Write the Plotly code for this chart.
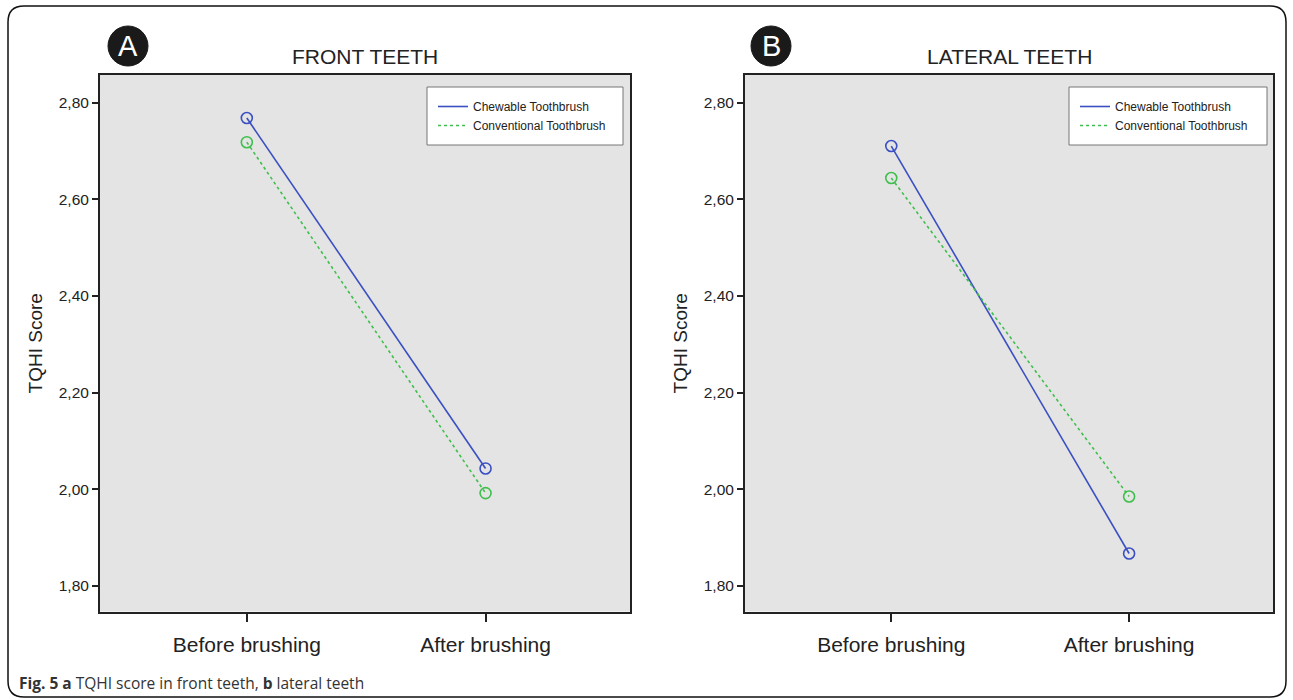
import plotly.graph_objects as go

categories = ["Before brushing", "After brushing"]
front_chewable = [2.768, 2.043]
front_conventional = [2.718, 1.992]
lateral_chewable = [2.710, 1.867]
lateral_conventional = [2.644, 1.985]
series_names = ["Chewable Toothbrush", "Conventional Toothbrush"]
panel_titles = ["FRONT TEETH", "LATERAL TEETH"]
panel_letters = ["A", "B"]
y_ticks = [1.80, 2.00, 2.20, 2.40, 2.60, 2.80]
y_tick_labels = ["1,80", "2,00", "2,20", "2,40", "2,60", "2,80"]
caption = "<b>Fig. 5</b> <b>a</b> TQHI score in front teeth, <b>b</b> lateral teeth"

W, H = 1293, 700
BLUE = "#3a50c2"
GREEN = "#3fbf4c"
FONT = "Liberation Sans, Arial, sans-serif"

def px(x):
    return x / W

def py(y):
    return 1 - y / H

panels = [
    dict(xd=[px(100), px(630)], data=[front_chewable, front_conventional], xa="x", ya="y", legend="legend"),
    dict(xd=[px(745), px(1273)], data=[lateral_chewable, lateral_conventional], xa="x2", ya="y2", legend="legend2"),
]

fig = go.Figure()
for p in panels:
    for name, vals, col, dash in zip(series_names, p["data"], [BLUE, GREEN], ["solid", "dot"]):
        fig.add_trace(go.Scatter(
            x=categories, y=vals, mode="lines", name=name,
            line=dict(color=col, width=1.6, dash=dash),
            xaxis=p["xa"], yaxis=p["ya"], legend=p["legend"], showlegend=True,
        ))
        fig.add_trace(go.Scatter(
            x=categories, y=vals, mode="markers", name=name,
            marker=dict(symbol="circle-open", size=11, color=col, line=dict(width=1.6, color=col)),
            xaxis=p["xa"], yaxis=p["ya"], showlegend=False, hoverinfo="skip",
        ))

ydom = [py(611.5), py(75)]
xaxis_common = dict(
    type="category", range=[-0.615, 1.605], showgrid=False, zeroline=False,
    showline=True, linecolor="#222222", linewidth=2, mirror=True,
    ticks="outside", ticklen=8, tickwidth=1.5, tickcolor="#222222",
    tickfont=dict(family=FONT, size=21, color="#222222"), ticklabelstandoff=5,
)
yaxis_common = dict(
    range=[1.747, 2.857], showgrid=False, zeroline=False,
    showline=True, linecolor="#222222", linewidth=2, mirror=True,
    ticks="outside", ticklen=6, tickwidth=1.5, tickcolor="#222222",
    tickvals=y_ticks, ticktext=y_tick_labels,
    tickfont=dict(family=FONT, size=15.5, color="#222222"),
    title=dict(text="TQHI Score", font=dict(family=FONT, size=19, color="#222222"), standoff=11),
)
fig.update_layout(
    xaxis=dict(domain=panels[0]["xd"], anchor="y", **xaxis_common),
    yaxis=dict(domain=ydom, anchor="x", **yaxis_common),
    xaxis2=dict(domain=panels[1]["xd"], anchor="y2", **xaxis_common),
    yaxis2=dict(domain=ydom, anchor="x2", **yaxis_common),
)

legend_common = dict(
    bgcolor="rgba(0,0,0,0)", borderwidth=0, xanchor="left", yanchor="top",
    font=dict(family=FONT, size=12, color="#222222"), tracegroupgap=0, itemwidth=30,
)
fig.update_layout(
    legend=dict(x=px(433), y=py(92), **legend_common),
    legend2=dict(x=px(1075), y=py(92), **legend_common),
)

shapes = []
for lx0, lx1 in [(427, 623), (1069, 1267)]:
    shapes.append(dict(type="rect", xref="paper", yref="paper",
                       x0=px(lx0), x1=px(lx1), y0=py(145), y1=py(87),
                       fillcolor="white", line=dict(color="#777777", width=1), layer="above"))
for cx in [128, 771]:
    r = 20
    shapes.append(dict(type="circle", xref="paper", yref="paper",
                       x0=px(cx - r), x1=px(cx + r), y0=py(46 + r), y1=py(46 - r),
                       fillcolor="#1a1a1a", line=dict(color="#1a1a1a", width=1)))
x0, x1, y0, y1, rr = 8, 1286, 6, 697, 16
path = (f"M {px(x0)},{py(y0+rr)} Q {px(x0)},{py(y0)} {px(x0+rr)},{py(y0)} "
        f"L {px(x1-rr)},{py(y0)} Q {px(x1)},{py(y0)} {px(x1)},{py(y0+rr)} "
        f"L {px(x1)},{py(y1-rr)} Q {px(x1)},{py(y1)} {px(x1-rr)},{py(y1)} "
        f"L {px(x0+rr)},{py(y1)} Q {px(x0)},{py(y1)} {px(x0)},{py(y1-rr)} Z")
shapes.append(dict(type="path", xref="paper", yref="paper", path=path,
                   line=dict(color="#111111", width=1.5)))

annotations = []
for title, letter, cx, tx in zip(panel_titles, panel_letters, [128, 771], [365, 1009]):
    annotations.append(dict(text=title, xref="paper", yref="paper", x=px(tx), y=py(57),
                            xanchor="center", yanchor="middle", showarrow=False,
                            font=dict(family=FONT, size=21, color="#222222")))
    annotations.append(dict(text=letter, xref="paper", yref="paper", x=px(cx), y=py(46),
                            xanchor="center", yanchor="middle", showarrow=False,
                            font=dict(family=FONT, size=29, color="white")))
annotations.append(dict(text=caption, xref="paper", yref="paper", x=px(17), y=py(683),
                        xanchor="left", yanchor="middle", showarrow=False,
                        font=dict(family="Open Sans, sans-serif", size=15.5, color="#333333")))

fig.update_layout(
    width=W, height=H, margin=dict(l=0, r=0, t=0, b=0),
    paper_bgcolor="white", plot_bgcolor="#e4e4e4",
    shapes=shapes, annotations=annotations, hovermode=False,
)
fig.write_html("out.html", config={"displayModeBar": False},
               post_script="document.body.style.margin='0';document.body.style.overflow='hidden';")
